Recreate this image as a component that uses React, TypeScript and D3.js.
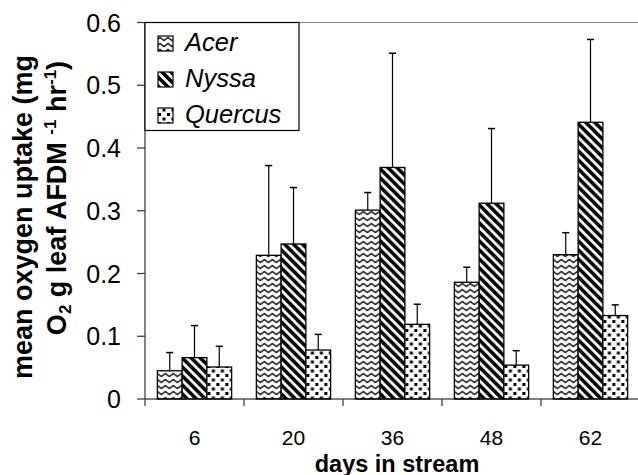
import React from 'react';
import * as d3 from 'd3';

// values
const days = ['6', '20', '36', '48', '62'];
const species = ['Acer', 'Nyssa', 'Quercus'];
const acerMean = [0.045, 0.229, 0.301, 0.186, 0.23];
const acerErr = [0.029, 0.143, 0.028, 0.024, 0.035];
const nyssaMean = [0.066, 0.247, 0.369, 0.312, 0.441];
const nyssaErr = [0.051, 0.09, 0.182, 0.119, 0.132];
const quercusMean = [0.051, 0.078, 0.119, 0.054, 0.133];
const quercusErr = [0.033, 0.025, 0.032, 0.023, 0.017];
const yTicks = [0, 0.1, 0.2, 0.3, 0.4, 0.5, 0.6];

const means = [acerMean, nyssaMean, quercusMean];
const errs = [acerErr, nyssaErr, quercusErr];
const fills = ['url(#pAcer)', 'url(#pNyssa)', 'url(#pQuercus)'];

const W = 638;
const H = 475;
const margin = { top: 22.5, right: -2, bottom: 76, left: 145 };
const font = "'Liberation Sans', Arial, sans-serif";

const App: React.FC = () => {
  const x = d3
    .scaleBand<string>()
    .domain(days)
    .range([margin.left, W - margin.right])
    .paddingInner(0.25)
    .paddingOuter(0.125);

  const xs = d3.scaleBand<string>().domain(species).range([0, x.bandwidth()]);

  const y = d3
    .scaleLinear()
    .domain([0, 0.6])
    .range([H - margin.bottom, margin.top]);

  const step = x.step();
  const boundaries = d3.range(days.length + 1).map((i) => margin.left + i * step);

  return (
    <svg
      width={W}
      height={H}
      style={{ position: 'absolute', left: 0, top: 0, background: '#fff' }}
      fontFamily={font}
    >
      <defs>
        <pattern id="pAcer" width={8} height={6} patternUnits="userSpaceOnUse">
          <rect width={8} height={6} fill="#fff" />
          <path d="M-4,4.5 L0,1.5 L4,4.5 L8,1.5 L12,4.5" fill="none" stroke="#222" strokeWidth={1.5} />
        </pattern>
        <pattern id="pNyssa" width={9} height={9} patternUnits="userSpaceOnUse">
          <rect width={9} height={9} fill="#fff" />
          <path d="M-2,-2 L11,11 M-2,7 L2,11 M7,-2 L11,2" stroke="#000" strokeWidth={3.6} />
        </pattern>
        <pattern id="pQuercus" width={9} height={9} patternUnits="userSpaceOnUse">
          <rect width={9} height={9} fill="#fff" />
          <rect x={0.5} y={0.5} width={3} height={3} fill="#000" />
          <rect x={5} y={5} width={3} height={3} fill="#000" />
        </pattern>
      </defs>

      {/* plot top border */}
      <line x1={margin.left} x2={W} y1={margin.top} y2={margin.top} stroke="#888" strokeWidth={1} />

      {/* bars */}
      {days.map((d, i) => (
        <g key={d} transform={`translate(${x(d)},0)`}>
          {species.map((s, j) => {
            const bx = xs(s)!;
            const bw = xs.bandwidth();
            const v = means[j][i];
            const e = v + errs[j][i];
            const cx = bx + bw / 2;
            return (
              <g key={s}>
                <line x1={cx} x2={cx} y1={y(v)} y2={y(e)} stroke="#000" strokeWidth={1.2} />
                <line x1={cx - 3.5} x2={cx + 3.5} y1={y(e)} y2={y(e)} stroke="#000" strokeWidth={1.5} />
                <rect
                  x={bx}
                  y={y(v)}
                  width={bw}
                  height={y(0) - y(v)}
                  fill={fills[j]}
                  stroke="#000"
                  strokeWidth={1.3}
                />
              </g>
            );
          })}
        </g>
      ))}

      {/* y axis */}
      <line x1={margin.left} x2={margin.left} y1={y(0.6)} y2={y(0)} stroke="#333" strokeWidth={1.2} />
      {yTicks.map((t) => (
        <g key={t}>
          <line x1={margin.left - 8} x2={margin.left} y1={y(t)} y2={y(t)} stroke="#333" strokeWidth={1.2} />
          <text x={121} y={y(t)} dy="0.36em" textAnchor="end" fontSize={25} fill="#000">
            {t === 0 ? '0' : t.toFixed(1)}
          </text>
        </g>
      ))}

      {/* x axis */}
      <line x1={margin.left} x2={W} y1={y(0)} y2={y(0)} stroke="#000" strokeWidth={1.2} />
      {boundaries.map((b) => (
        <line key={b} x1={b} x2={b} y1={y(0)} y2={y(0) + 7} stroke="#333" strokeWidth={1.2} />
      ))}
      {days.map((d) => (
        <text key={d} x={x(d)! + x.bandwidth() / 2} y={445} textAnchor="middle" fontSize={21} fill="#000">
          {d}
        </text>
      ))}
      <text x={397} y={471.5} textAnchor="middle" fontSize={23.5} fontWeight="bold" fill="#000">
        days in stream
      </text>

      {/* y title */}
      <text
        transform="translate(32,217) rotate(-90)"
        textAnchor="middle"
        fontSize={27}
        fontWeight="bold"
        fill="#000"
      >
        mean oxygen uptake (mg
      </text>
      <text
        transform="translate(66,198) rotate(-90)"
        textAnchor="middle"
        fontSize={27}
        fontWeight="bold"
        fill="#000"
      >
        O<tspan fontSize={17} dy={5}>2</tspan>
        <tspan dy={-5}> g leaf AFDM </tspan>
        <tspan fontSize={17} dy={-10}>-1</tspan>
        <tspan dy={10}> hr</tspan>
        <tspan fontSize={17} dy={-10}>-1</tspan>
        <tspan dy={10}>)</tspan>
      </text>

      {/* legend */}
      <rect x={margin.left} y={margin.top} width={154} height={108} fill="#fff" stroke="#000" strokeWidth={1.2} />
      {species.map((s, j) => {
        const base = 51 + j * 36;
        return (
          <g key={s}>
            <rect x={158} y={base - 15} width={15} height={15} fill={fills[j]} stroke="#000" strokeWidth={1.2} />
            <text x={185} y={base} fontSize={25.5} fontStyle="italic" fill="#000">
              {s}
            </text>
          </g>
        );
      })}
    </svg>
  );
};

export default App;
